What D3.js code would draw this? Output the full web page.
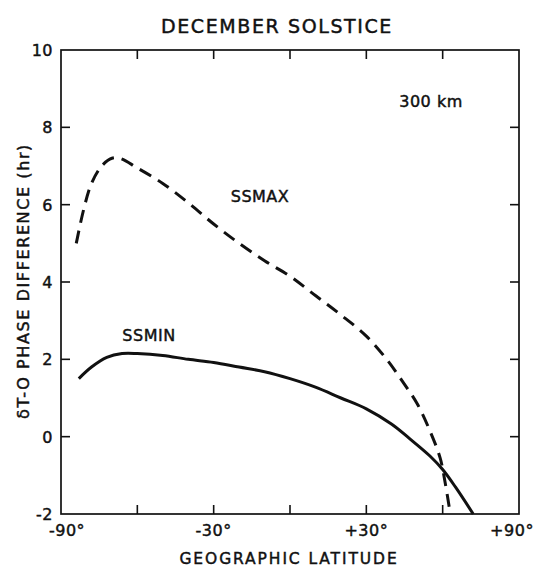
<!DOCTYPE html>
<html><head><meta charset="utf-8">
<script src="https://cdn.jsdelivr.net/npm/d3@7"></script>
<style>body{margin:0;background:#fff}text{font-family:"DejaVu Sans",sans-serif;fill:#111;stroke:#111;stroke-width:0.45}</style>
</head><body><svg id="c" width="541" height="569"></svg>
<script>
const ssmaxLat = [-84,-81,-78,-74,-70,-67,-60,-50,-40,-30,-20,-10,0,10,20,30,38,44,50,55,59,61,63];
const ssmaxVal = [5.0,5.9,6.55,7.0,7.2,7.2,6.95,6.55,6.05,5.5,5.0,4.55,4.15,3.65,3.15,2.6,2.0,1.45,0.85,0.15,-0.55,-1.2,-2.0];
const ssminLat = [-83,-78,-72,-66,-60,-50,-40,-30,-20,-10,0,10,20,30,40,47,55,60,65,72];
const ssminVal = [1.5,1.8,2.05,2.15,2.15,2.1,2.0,1.92,1.8,1.68,1.5,1.28,1.0,0.72,0.32,-0.05,-0.5,-0.85,-1.3,-2.0];
const xTicks = [-90,-60,-30,0,30,60,90];
const xTickLabels = ["-90°","","-30°","","+30°","","+90°"];
const yTicks = [-2,0,2,4,6,8,10];

const svg = d3.select("#c");
const L=61,R=519,T=50,B=514;
const x = d3.scaleLinear().domain([-90,90]).range([L,R]);
const y = d3.scaleLinear().domain([-2,10]).range([B,T]);

svg.append("rect").attr("x",L).attr("y",T).attr("width",R-L).attr("height",B-T)
  .attr("fill","none").attr("stroke","#111").attr("stroke-width",1.7);

const tl=9;
const g = svg.append("g").attr("stroke","#111").attr("stroke-width",1.6);
xTicks.slice(1,-1).forEach(v=>{
  g.append("line").attr("x1",x(v)).attr("x2",x(v)).attr("y1",B).attr("y2",B-tl);
  g.append("line").attr("x1",x(v)).attr("x2",x(v)).attr("y1",T).attr("y2",T+tl);
});
yTicks.slice(1,-1).forEach(v=>{
  g.append("line").attr("x1",L).attr("x2",L+tl).attr("y1",y(v)).attr("y2",y(v));
  g.append("line").attr("x1",R).attr("x2",R-tl).attr("y1",y(v)).attr("y2",y(v));
});

xTicks.forEach((v,i)=>{
  if(!xTickLabels[i]) return;
  const off = i===0 ? 6 : (i===xTicks.length-1 ? -7 : 0);
  svg.append("text").attr("x",x(v)+off).attr("y",B+22).attr("text-anchor","middle")
    .attr("font-size",16).attr("letter-spacing",0.5).text(xTickLabels[i]);
});
yTicks.forEach(v=>{
  svg.append("text").attr("x",L-8).attr("y",y(v)+6).attr("text-anchor","end")
    .attr("font-size",16).attr("letter-spacing",0.5).text(v);
});

svg.append("text").attr("x",277).attr("y",33).attr("text-anchor","middle")
  .attr("font-size",19).attr("letter-spacing",1.6).text("DECEMBER SOLSTICE");
svg.append("text").attr("x",289).attr("y",564).attr("text-anchor","middle")
  .attr("font-size",15.5).attr("letter-spacing",1.9).text("GEOGRAPHIC LATITUDE");
svg.append("text").attr("transform","translate(29,281) rotate(-90)").attr("text-anchor","middle")
  .attr("font-size",16).attr("letter-spacing",1.6).text("δT-O  PHASE DIFFERENCE (hr)");
svg.append("text").attr("x",431).attr("y",107).attr("text-anchor","middle")
  .attr("font-size",16).attr("letter-spacing",0.5).text("300  km");
svg.append("text").attr("x",260).attr("y",202).attr("text-anchor","middle")
  .attr("font-size",16).attr("letter-spacing",0.5).text("SSMAX");
svg.append("text").attr("x",149).attr("y",341).attr("text-anchor","middle")
  .attr("font-size",16).attr("letter-spacing",0.5).text("SSMIN");

const line = d3.line().x(d=>x(d[0])).y(d=>y(d[1])).curve(d3.curveCatmullRom);
svg.append("path").datum(ssmaxLat.map((v,i)=>[v,ssmaxVal[i]])).attr("d",line)
  .attr("fill","none").attr("stroke","#111").attr("stroke-width",3).attr("stroke-dasharray","13,8");
svg.append("path").datum(ssminLat.map((v,i)=>[v,ssminVal[i]])).attr("d",line)
  .attr("fill","none").attr("stroke","#111").attr("stroke-width",3);
</script></body></html>
